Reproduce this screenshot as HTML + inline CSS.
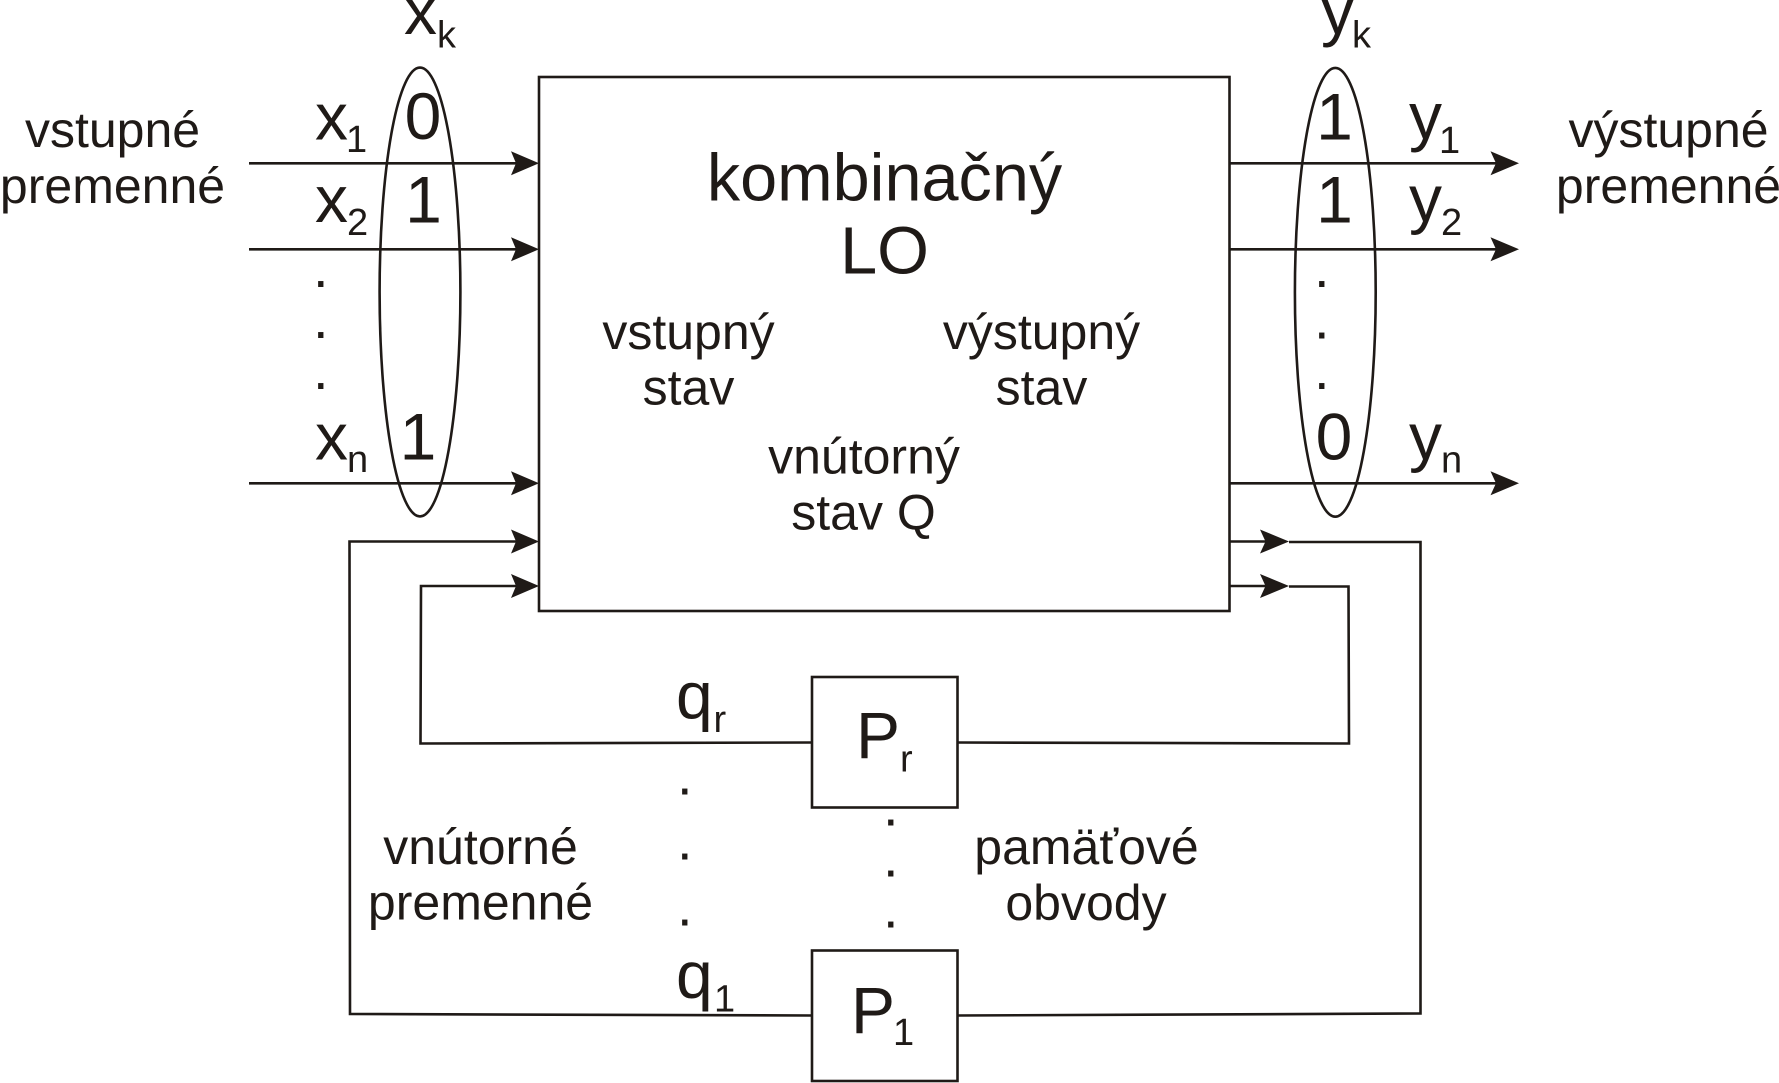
<!DOCTYPE html>
<html><head><meta charset="utf-8"><style>
html,body{margin:0;padding:0;background:#fff}
svg{display:block}
text{font-family:"Liberation Sans",Arial,sans-serif;fill:#1f1a17}
.m{font-size:50px}.b{font-size:66px}.k{font-size:66.6px}.s{font-size:38px}.c{text-anchor:middle}.d{font-size:56px}
</style></head><body>
<svg width="1779" height="1083" viewBox="0 0 1779 1083" xmlns="http://www.w3.org/2000/svg">
<rect width="1779" height="1083" fill="#fff"/>
<g fill="none" stroke="#1f1a17" stroke-width="2.6">
<rect x="539" y="77" width="690.5" height="534"/>
<rect x="812" y="677" width="145.5" height="130.5"/>
<rect x="812" y="950.5" width="145.5" height="130.5"/>
<ellipse cx="420" cy="292" rx="40.4" ry="224.4"/>
<ellipse cx="1335.3" cy="292.3" rx="40.4" ry="224.4"/>
<path d="M249 163.3H525M249 249.3H525M249 483.3H525"/>
<path d="M1229.5 163.3H1505M1229.5 249.3H1505M1229.5 483.3H1505"/>
<path d="M1229.5 541.5H1275M1229.5 586H1275"/>
<path d="M525 541.5H349.5L350 1014L812 1015.5"/>
<path d="M525 586H421L420.5 743.5L812 742.5"/>
<path d="M1289 542H1420.5V1013.5L957.5 1015.5"/>
<path d="M1289 586.5H1348.5L1349 743.5L957.5 742.5"/>
</g>
<g fill="#1f1a17">
<path d="M539 163.3L511 151.3L516 163.3L511 175.3Z"/>
<path d="M539 249.3L511 237.3L516 249.3L511 261.3Z"/>
<path d="M539 483.3L511 471.3L516 483.3L511 495.3Z"/>
<path d="M539 541.5L511 529.5L516 541.5L511 553.5Z"/>
<path d="M539 586L511 574L516 586L511 598Z"/>
<path d="M1519 163.3L1490.5 151.3L1496 163.3L1490.5 175.3Z"/>
<path d="M1519 249.3L1490.5 237.3L1496 249.3L1490.5 261.3Z"/>
<path d="M1519 483.3L1490.5 471.3L1496 483.3L1490.5 495.3Z"/>
<path d="M1289 541.5L1260 529.5L1265.5 541.5L1260 553.5Z"/>
<path d="M1289 586L1260 574L1265.5 586L1260 598Z"/>
</g>

<text class="m c" x="112.5" y="147">vstupné</text>
<text class="m c" x="112.5" y="203">premenné</text>
<text class="m c" x="1668.5" y="147">výstupné</text>
<text class="m c" x="1668.5" y="203">premenné</text>

<text class="b" x="404" y="34">x</text><text class="s" x="437" y="47.5">k</text>
<text class="b" x="1321" y="34">y</text><text class="s" x="1352" y="47.5">k</text>

<text class="b" x="315" y="139.5">x</text><text class="s" x="346" y="152">1</text>
<text class="b" x="315" y="222">x</text><text class="s" x="347" y="235">2</text>
<text class="b" x="315" y="459.5">x</text><text class="s" x="347" y="472">n</text>

<text class="b c" x="423" y="139">0</text>
<text class="b c" x="423.5" y="222.5">1</text>
<text class="b c" x="418" y="459.5">1</text>
<text class="b c" x="1334.5" y="139.5">1</text>
<text class="b c" x="1334.5" y="222.5">1</text>
<text class="b c" x="1334" y="459.5">0</text>

<text class="b" x="1409" y="139">y</text><text class="s" x="1439" y="153">1</text>
<text class="b" x="1409" y="221.5">y</text><text class="s" x="1441" y="235">2</text>
<text class="b" x="1409" y="459.5">y</text><text class="s" x="1441" y="472.7">n</text>

<text class="k c" x="884.5" y="200.5">kombinačný</text>
<text class="k c" x="884.5" y="273.5">LO</text>
<text class="m c" x="688.5" y="349">vstupný</text>
<text class="m c" x="688.5" y="404.5">stav</text>
<text class="m c" x="1041.5" y="349">výstupný</text>
<text class="m c" x="1041.5" y="404.5">stav</text>
<text class="m c" x="864" y="473.5">vnútorný</text>
<text class="m c" x="863.5" y="529.5">stav Q</text>

<text class="b" x="676" y="718.5">q</text><text class="s" x="713.5" y="732">r</text>
<text class="b" x="676" y="998">q</text><text class="s" x="714" y="1011.5">1</text>
<text class="b" x="856" y="758">P</text><text class="s" x="900" y="771.7">r</text>
<text class="b" x="851" y="1033">P</text><text class="s" x="893" y="1045">1</text>

<text class="m c" x="480.5" y="864">vnútorné</text>
<text class="m c" x="480.5" y="919.5">premenné</text>
<text class="m c" x="1086.5" y="864">pamäťové</text>
<text class="m c" x="1086" y="920">obvody</text>

<text class="d" x="313" y="287">.</text>
<text class="d" x="313" y="338">.</text>
<text class="d" x="313" y="389">.</text>
<text class="d" x="1314" y="287">.</text>
<text class="d" x="1314" y="338.5">.</text>
<text class="d" x="1314" y="389">.</text>
<text class="d" x="677" y="794.5">.</text>
<text class="d" x="677" y="859.5">.</text>
<text class="d" x="677" y="925.5">.</text>
<text class="d" x="883" y="825.5">.</text>
<text class="d" x="883" y="876.5">.</text>
<text class="d" x="883" y="927.5">.</text>
</svg>
</body></html>
